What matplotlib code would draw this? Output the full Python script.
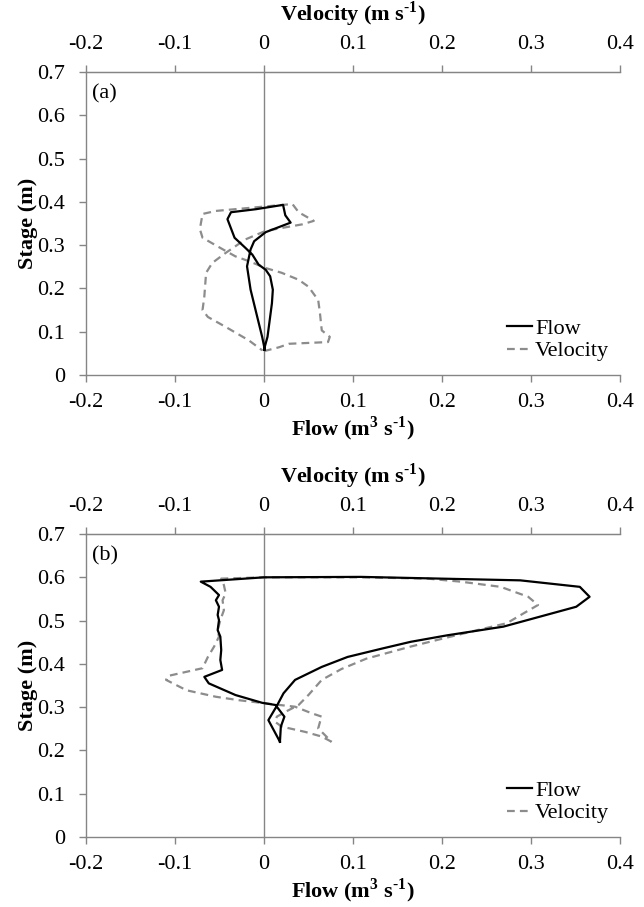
import matplotlib
matplotlib.use("Agg")
import matplotlib.pyplot as plt

# ── data ───────────────────────────────────────────────────────────────────
# panel (a): stage (m) vs flow (m3/s) and velocity (m/s)
a_flow_h = [0.058, 0.088, 0.134, 0.197, 0.251, 0.290, 0.309, 0.330, 0.352, 0.369,
            0.393, 0.383, 0.376, 0.360, 0.317, 0.294, 0.278, 0.255, 0.243, 0.228,
            0.197, 0.166, 0.119, 0.088, 0.058]
a_flow_q = [0.001, -0.002, -0.0075, -0.015, -0.019, -0.015, -0.011, 0.002, 0.030, 0.024,
            0.0215, -0.009, -0.037, -0.041, -0.033, -0.021, -0.013, -0.006, 0.002, 0.007,
            0.010, 0.009, 0.006, 0.004, 0.000]
a_vel_h = [0.055, 0.064, 0.072, 0.076, 0.088, 0.103, 0.142, 0.173, 0.204, 0.220,
           0.236, 0.247, 0.263, 0.274, 0.290, 0.317, 0.337, 0.372, 0.379, 0.395,
           0.376, 0.356, 0.348, 0.333, 0.313, 0.282, 0.259, 0.236, 0.181, 0.150,
           0.134, 0.111, 0.080, 0.057]
a_vel_v = [0.000, 0.017, 0.028, 0.072, 0.074, 0.065, 0.063, 0.061, 0.050, 0.039,
           0.020, 0.002, -0.017, -0.032, -0.046, -0.069, -0.072, -0.069, -0.054, 0.032,
           0.039, 0.056, 0.043, 0.002, -0.021, -0.043, -0.058, -0.065, -0.067, -0.069,
           -0.063, -0.043, -0.017, -0.002]

# panel (b)
b_flow_h = [0.220, 0.270, 0.303, 0.332, 0.363, 0.393, 0.416, 0.435, 0.451, 0.466,
            0.486, 0.532, 0.555, 0.578, 0.593, 0.601, 0.600, 0.590, 0.578, 0.559,
            0.547, 0.532, 0.513, 0.501, 0.478, 0.463, 0.432, 0.409, 0.386, 0.370,
            0.355, 0.328, 0.310, 0.305, 0.278, 0.255, 0.220]
b_flow_q = [0.018, 0.005, 0.0145, 0.022, 0.035, 0.065, 0.094, 0.132, 0.165, 0.206,
            0.269, 0.351, 0.366, 0.355, 0.288, 0.109, 0.000, -0.071, -0.060, -0.0505,
            -0.054, -0.0505, -0.052, -0.0505, -0.052, -0.049, -0.048, -0.049, -0.047, -0.067,
            -0.062, -0.032, -0.002, 0.013, 0.023, 0.019, 0.018]
b_vel_h = [0.220, 0.232, 0.243, 0.255, 0.266, 0.278, 0.289, 0.305, 0.328, 0.363,
           0.388, 0.412, 0.440, 0.459, 0.478, 0.494, 0.517, 0.536, 0.555, 0.578,
           0.590, 0.597, 0.600, 0.600, 0.597, 0.582, 0.563, 0.547, 0.524, 0.501,
           0.478, 0.463, 0.440, 0.416, 0.390, 0.372, 0.363, 0.339, 0.324, 0.316,
           0.307, 0.301, 0.286, 0.278, 0.266, 0.251, 0.220]
b_vel_v = [0.076, 0.065, 0.046, 0.020, 0.0126, 0.0145, 0.024, 0.039, 0.050, 0.065,
           0.087, 0.115, 0.165, 0.202, 0.240, 0.273, 0.292, 0.308, 0.297, 0.266,
           0.221, 0.184, 0.109, 0.000, -0.048, -0.045, -0.043, -0.0465, -0.045, -0.049,
           -0.052, -0.0505, -0.056, -0.063, -0.069, -0.108, -0.110, -0.087, -0.054, -0.028,
           0.009, 0.035, 0.0535, 0.065, 0.063, 0.061, 0.076]

x_ticks = [-0.2, -0.1, 0, 0.1, 0.2, 0.3, 0.4]
x_tick_labels = ["-0.2", "-0.1", "0", "0.1", "0.2", "0.3", "0.4"]
y_ticks = [0, 0.1, 0.2, 0.3, 0.4, 0.5, 0.6, 0.7]
y_tick_labels = ["0", "0.1", "0.2", "0.3", "0.4", "0.5", "0.6", "0.7"]

panels = [
    ("(a)", a_flow_q, a_flow_h, a_vel_v, a_vel_h),
    ("(b)", b_flow_q, b_flow_h, b_vel_v, b_vel_h),
]

# ── style ──────────────────────────────────────────────────────────────────
plt.rcParams["font.family"] = ["Liberation Serif", "DejaVu Serif"]
plt.rcParams["mathtext.fontset"] = "custom"
plt.rcParams["mathtext.rm"] = "Liberation Serif"
plt.rcParams["mathtext.bf"] = "Liberation Serif:bold"

AXIS = "#858585"
VEL = "#8c8c8c"
FS = 16
HY = "\u2010"  # plain hyphen for the superscript "-1"

fig = plt.figure(figsize=(6.44, 9.07), dpi=100)
rects = [[0.1335, 0.5866, 0.829, 0.334], [0.1335, 0.0772, 0.829, 0.334]]

for rect, (tag, fq, fh, vv, vh) in zip(rects, panels):
    ax = fig.add_axes(rect)
    ax.axvline(0, color=AXIS, linewidth=1.0, zorder=1)
    ax.plot(fq, fh, color="black", linewidth=1.6, label="Flow", zorder=3)
    ax.plot(vv, vh, color=VEL, linewidth=1.6, linestyle=(0, (3.5, 2.3)),
            label="Velocity", zorder=2)

    ax.set_xlim(-0.2, 0.4)
    ax.set_ylim(0, 0.7)
    ax.set_xticks(x_ticks)
    ax.set_xticklabels(x_tick_labels)
    ax.set_yticks(y_ticks)
    ax.set_yticklabels(y_tick_labels)
    ax.tick_params(direction="out", length=5, width=1, color=AXIS,
                   labelsize=FS)
    ax.tick_params(axis="y", pad=10)
    ax.tick_params(axis="x", pad=8)
    ax.spines["right"].set_visible(False)
    for s in ("left", "bottom", "top"):
        ax.spines[s].set_color(AXIS)
        ax.spines[s].set_linewidth(1.0)

    ax.set_xlabel(r"Flow (m$^{\mathbf{3}}$ s$^{\mathbf{" + HY + "1}}$)",
                  fontsize=FS, fontweight="bold", labelpad=2)
    ax.set_ylabel("Stage (m)", fontsize=FS, fontweight="bold")
    ax.yaxis.set_label_coords(-0.09, 0.5)

    top = ax.secondary_xaxis("top")
    top.set_xticks(x_ticks)
    top.set_xticklabels(x_tick_labels)
    top.tick_params(direction="out", length=5, width=1, color=AXIS,
                    labelsize=FS, pad=8)
    top.spines["top"].set_color(AXIS)
    top.set_xlabel(r"Velocity (m s$^{\mathbf{" + HY + "1}}$)", fontsize=FS,
                   fontweight="bold", labelpad=10)

    ax.text(0.012, 0.96, tag, transform=ax.transAxes, fontsize=FS,
            ha="left", va="top")

    ax.legend(loc="lower right", bbox_to_anchor=(0.98, 0.045), frameon=False,
              fontsize=FS, handlelength=1.1, handletextpad=0.15,
              labelspacing=0.1, borderaxespad=0.0, borderpad=0.0)

fig.savefig("out.png", dpi=100, facecolor="white")
